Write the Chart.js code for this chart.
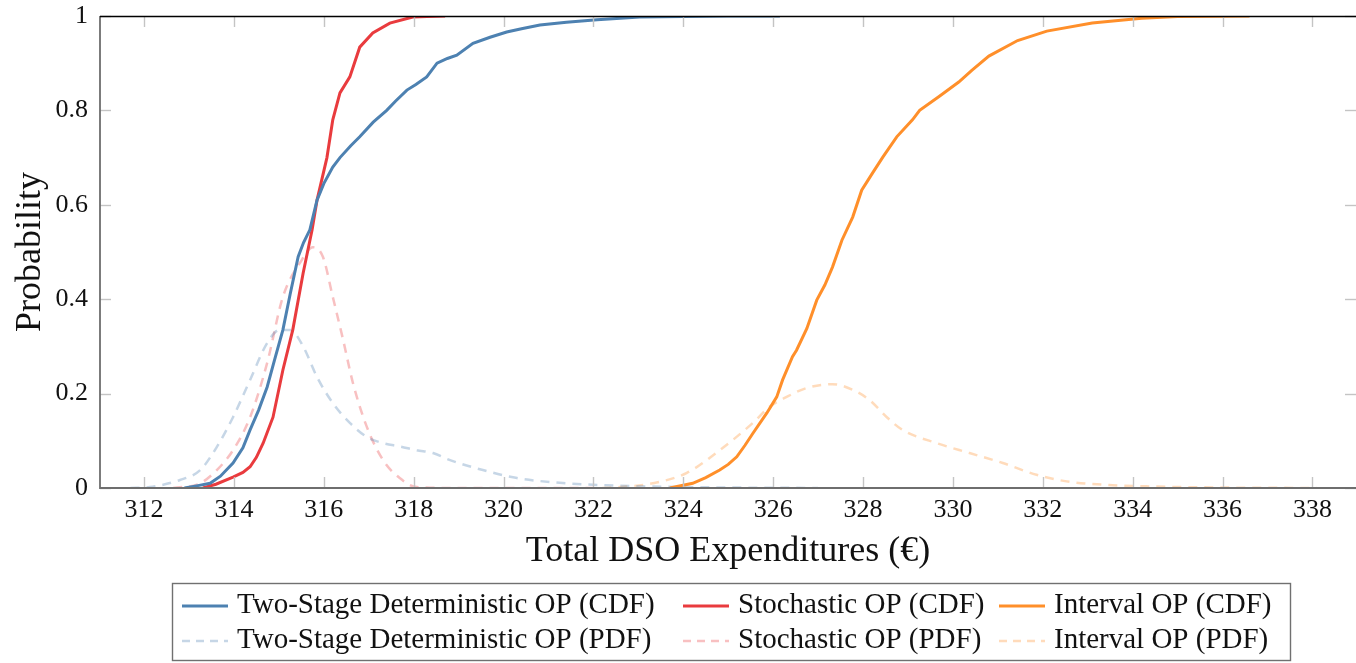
<!DOCTYPE html>
<html>
<head>
<meta charset="utf-8">
<script src="https://cdn.jsdelivr.net/npm/chart.js@4/dist/chart.umd.min.js"></script>
<style>
html,body{margin:0;padding:0;background:#fff;}
#wrap{position:relative;width:1356px;height:663px;}
</style>
</head>
<body>
<div id="wrap"><canvas id="c" width="1356" height="663"></canvas></div>
<script>
// ---- data ----
const xTicks = [312,314,316,318,320,322,324,326,328,330,332,334,336,338];
const yTicks = [0,0.2,0.4,0.6,0.8,1];

const labels = [
  'Two-Stage Deterministic OP (CDF)','Stochastic OP (CDF)','Interval OP (CDF)',
  'Two-Stage Deterministic OP (PDF)','Stochastic OP (PDF)','Interval OP (PDF)'
];

const twoStageCdfX = [312.9,313.2,313.47,313.7,313.98,314.2,314.36,314.55,314.74,314.9,315.09,315.25,315.43,315.55,315.69,315.85,316.0,316.2,316.36,316.6,316.8,317.1,317.4,317.6,317.85,318.05,318.29,318.52,318.75,318.96,319.32,319.7,320.07,320.4,320.81,321.4,322.08,322.6,323.03,324.0,325.0,326.15];
const twoStageCdfY = [0,0.005,0.01,0.025,0.053,0.085,0.123,0.165,0.214,0.27,0.335,0.41,0.49,0.52,0.547,0.61,0.645,0.68,0.70,0.725,0.744,0.775,0.80,0.82,0.843,0.855,0.871,0.90,0.91,0.917,0.942,0.955,0.966,0.973,0.981,0.987,0.992,0.995,0.998,0.999,1.0,1.0];

const stochCdfX = [313.31,313.6,313.98,314.2,314.36,314.5,314.65,314.87,315.09,315.31,315.54,315.74,315.85,316.07,316.2,316.36,316.58,316.8,317.09,317.47,317.98,318.3,318.7];
const stochCdfY = [0,0.008,0.023,0.033,0.045,0.065,0.095,0.15,0.25,0.335,0.455,0.547,0.61,0.70,0.78,0.837,0.871,0.934,0.964,0.985,0.998,0.999,1.0];

const intervalCdfX = [323.7,324.21,324.5,324.81,325.0,325.19,325.37,325.55,325.86,326.08,326.21,326.43,326.52,326.75,326.97,327.15,327.32,327.53,327.77,327.97,328.21,328.44,328.75,329.1,329.26,329.7,330.13,330.42,330.8,331.44,332.09,333.1,334.2,335.0,336.6];
const intervalCdfY = [0,0.01,0.022,0.038,0.05,0.066,0.09,0.116,0.159,0.193,0.229,0.278,0.292,0.338,0.398,0.43,0.468,0.525,0.574,0.631,0.667,0.701,0.744,0.78,0.80,0.83,0.86,0.885,0.915,0.948,0.968,0.985,0.995,0.999,1.0];

const twoStagePdfX = [311.7,312.13,312.8,313.25,313.62,313.98,314.36,314.74,315.02,315.25,315.54,315.85,316.2,316.58,316.96,317.32,317.7,318.07,318.43,318.81,319.54,320.3,321.41,322.5,324.0,327.0];
const twoStagePdfY = [0,0.002,0.017,0.038,0.087,0.15,0.229,0.307,0.335,0.335,0.30,0.235,0.18,0.138,0.108,0.095,0.088,0.08,0.074,0.059,0.038,0.021,0.01,0.005,0.002,0];

const stochPdfX = [312.65,313.25,313.62,313.98,314.36,314.74,315.09,315.47,315.76,315.98,316.2,316.43,316.65,316.96,317.32,317.69,318.07,319.0,322.0];
const stochPdfY = [0,0.01,0.038,0.08,0.15,0.265,0.405,0.477,0.51,0.49,0.405,0.314,0.222,0.129,0.059,0.021,0.002,0,0];

const intervalPdfX = [322.2,322.59,323.32,324.08,324.81,325.55,325.92,326.3,326.75,327.32,327.77,328.15,328.53,328.88,329.64,330.37,331.11,331.86,332.6,333.55,334.5,336.0,338.1];
const intervalPdfY = [0,0.002,0.01,0.032,0.08,0.138,0.172,0.193,0.212,0.22,0.208,0.186,0.15,0.123,0.095,0.074,0.053,0.028,0.013,0.006,0.003,0.001,0];

// ---- styles ----
const BLUE='#4d81b1', RED='#e93b3e', ORANGE='#ff8f2a';
const BLUE_L='rgba(77,129,177,0.32)', RED_L='rgba(233,59,62,0.32)', ORANGE_L='rgba(255,143,42,0.32)';
const FONT='"Liberation Serif", "Times New Roman", serif';

function pts(xs, ys){ return xs.map((x,i)=>({x:x,y:ys[i]})); }

function cdf(label, xs, ys, color){
  return {label, data:pts(xs,ys), borderColor:color, backgroundColor:color, borderWidth:3,
          pointRadius:0, tension:0, fill:false, order:1};
}
function pdf(label, xs, ys, color){
  return {label, data:pts(xs,ys), borderColor:color, backgroundColor:color, borderWidth:2.5,
          borderDash:[9,7], pointRadius:0, cubicInterpolationMode:'monotone', fill:false, order:2};
}

const datasets = [
  cdf(labels[0], twoStageCdfX, twoStageCdfY, BLUE),
  cdf(labels[1], stochCdfX, stochCdfY, RED),
  cdf(labels[2], intervalCdfX, intervalCdfY, ORANGE),
  pdf(labels[3], twoStagePdfX, twoStagePdfY, BLUE_L),
  pdf(labels[4], stochPdfX, stochPdfY, RED_L),
  pdf(labels[5], intervalPdfX, intervalPdfY, ORANGE_L)
];

// frame, inner ticks and legend
const framePlugin = {
  id:'frame',
  afterDatasetsDraw(chart){
    const ctx=chart.ctx, a=chart.chartArea, xs=chart.scales.x, ys=chart.scales.y;
    ctx.save();
    ctx.strokeStyle='#c4c4c4'; ctx.lineWidth=1.4;
    const tl=11;
    xTicks.forEach(v=>{
      const px=Math.round(xs.getPixelForValue(v))+0.5;
      ctx.beginPath(); ctx.moveTo(px,a.bottom); ctx.lineTo(px,a.bottom-tl); ctx.stroke();
      ctx.beginPath(); ctx.moveTo(px,a.top); ctx.lineTo(px,a.top+tl); ctx.stroke();
    });
    yTicks.forEach(v=>{
      const py=Math.round(ys.getPixelForValue(v))+0.5;
      ctx.beginPath(); ctx.moveTo(a.left,py); ctx.lineTo(a.left+tl,py); ctx.stroke();
      ctx.beginPath(); ctx.moveTo(a.right,py); ctx.lineTo(a.right-tl,py); ctx.stroke();
    });
    ctx.strokeStyle='#6e6e6e'; ctx.lineWidth=1.8;
    ctx.beginPath(); ctx.moveTo(a.left,a.top); ctx.lineTo(a.left,a.bottom); ctx.lineTo(a.right,a.bottom); ctx.stroke();
    ctx.strokeStyle='#000'; ctx.lineWidth=1.3;
    ctx.beginPath(); ctx.moveTo(a.left,a.top+0.5); ctx.lineTo(a.right,a.top+0.5); ctx.stroke();
    ctx.restore();
  },
  afterDraw(chart){
    const ctx=chart.ctx;
    ctx.save();
    ctx.strokeStyle='#707070'; ctx.lineWidth=1.4;
    ctx.strokeRect(172.5,583.5,1118,77);
    const colX=[182,683,999], rowY=[605,640];
    ctx.font='29px '+FONT; ctx.textBaseline='middle'; ctx.fillStyle='#111';
    chart.data.datasets.forEach((d,i)=>{
      const c=i%3, r=Math.floor(i/3);
      const x=colX[c], y=rowY[r];
      ctx.strokeStyle=d.borderColor; ctx.lineWidth=d.borderWidth;
      ctx.setLineDash(d.borderDash? [8,6] : []);
      ctx.beginPath(); ctx.moveTo(x,y+1); ctx.lineTo(x+46,y+1); ctx.stroke();
      ctx.setLineDash([]);
      ctx.fillText(d.label, x+55, y);
    });
    ctx.restore();
  }
};

function noPad(ax){ ax.paddingTop=0; ax.paddingBottom=0; ax.paddingLeft=0; ax.paddingRight=0; }

new Chart(document.getElementById('c'), {
  type:'line',
  data:{datasets},
  options:{
    responsive:false, animation:false,
    layout:{padding:{top:16,right:0,bottom:93,left:0}},
    plugins:{legend:{display:false}, tooltip:{enabled:false}},
    scales:{
      x:{type:'linear', min:311.02, max:338.97,
         afterBuildTicks(ax){ ax.ticks = xTicks.map(v=>({value:v})); },
         afterFit(ax){ ax.height = 82; noPad(ax); },
         grid:{display:false, drawTicks:false},
         border:{display:false},
         ticks:{font:{family:FONT,size:26}, color:'#111', padding:7, maxRotation:0, autoSkip:false,
                callback:v=>String(v)},
         title:{display:true, text:'Total DSO Expenditures (€)', color:'#111',
                font:{family:FONT,size:36,lineHeight:1}, padding:{top:0,bottom:0}}
      },
      y:{type:'linear', min:0, max:1,
         afterBuildTicks(ax){ ax.ticks = yTicks.map(v=>({value:v})); },
         afterFit(ax){ ax.width = 100; noPad(ax); },
         grid:{display:false, drawTicks:false},
         border:{display:false},
         ticks:{font:{family:FONT,size:26}, color:'#111', padding:12,
                callback:v=>String(Math.round(v*10)/10)},
         title:{display:true, text:'Probability', color:'#111',
                font:{family:FONT,size:36,lineHeight:1}, padding:{top:13,bottom:0}}
      }
    }
  },
  plugins:[framePlugin]
});
</script>
</body>
</html>
